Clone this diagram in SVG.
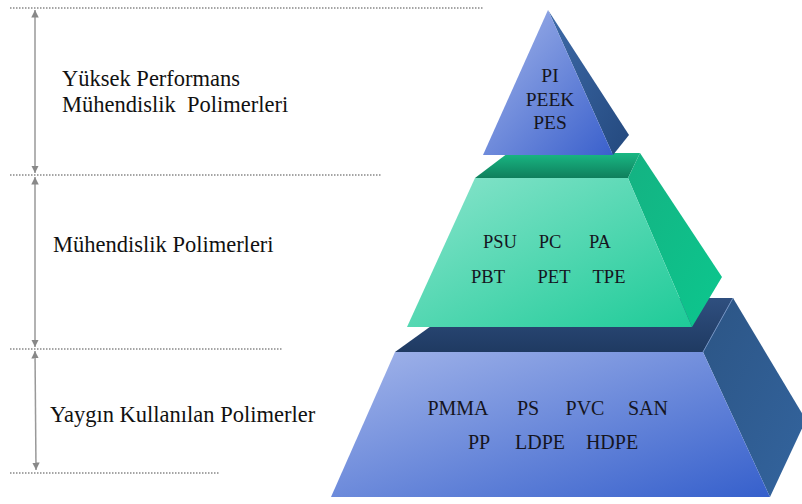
<svg xmlns="http://www.w3.org/2000/svg" width="802" height="504" viewBox="0 0 802 504">
<defs>
<linearGradient id="gTri" x1="0" y1="0" x2="1" y2="1"><stop offset="0" stop-color="#a4b6ea"/><stop offset="1" stop-color="#3a60cc"/></linearGradient>
<linearGradient id="gTriSide" x1="0" y1="0" x2="1" y2="1"><stop offset="0" stop-color="#3d6aa8"/><stop offset="1" stop-color="#24497e"/></linearGradient>
<linearGradient id="gGreen" x1="0" y1="0" x2="1" y2="1"><stop offset="0" stop-color="#8ae4cc"/><stop offset="1" stop-color="#1ecb98"/></linearGradient>
<linearGradient id="gGreenTop" x1="0" y1="0" x2="0" y2="1"><stop offset="0" stop-color="#19b884"/><stop offset="1" stop-color="#0f7f5c"/></linearGradient>
<linearGradient id="gGreenSide" x1="0" y1="0" x2="1" y2="1"><stop offset="0" stop-color="#14b282"/><stop offset="1" stop-color="#0cc78e"/></linearGradient>
<linearGradient id="gBlue" x1="0" y1="0" x2="1" y2="1"><stop offset="0" stop-color="#a3b5ea"/><stop offset="1" stop-color="#3660cc"/></linearGradient>
<linearGradient id="gBlueTop" x1="0" y1="0" x2="0" y2="1"><stop offset="0" stop-color="#2f4f7f"/><stop offset="1" stop-color="#1f3a62"/></linearGradient>
<linearGradient id="gBlueSide" x1="0" y1="0" x2="1" y2="1"><stop offset="0" stop-color="#2c5585"/><stop offset="1" stop-color="#33649e"/></linearGradient>
<marker id="ah" viewBox="0 0 10 10" refX="10" refY="5" markerWidth="5" markerHeight="5" orient="auto-start-reverse"><path d="M0,0 L10,5 L0,10 z" fill="#888"/></marker>
</defs>
<style>
.dot{stroke:#888;stroke-width:1.5;stroke-dasharray:1.5 1.5;fill:none}
.vl{stroke:#999;stroke-width:1.5;fill:none}
.lbl{font-family:"Liberation Serif",serif;font-size:22.5px;fill:#111}
.pl{font-family:"Liberation Serif",serif;font-size:18.5px;fill:#151520;text-anchor:middle}
.pt{font-size:19.5px}
.pb{font-size:20px}
</style>
<rect width="802" height="504" fill="#fff"/>
<g id="guides">
<line class="dot" x1="10" y1="8" x2="483" y2="8"/>
<line class="dot" x1="10" y1="175" x2="382" y2="175"/>
<line class="dot" x1="10" y1="349" x2="282" y2="349"/>
<line class="dot" x1="10" y1="473" x2="220" y2="473"/>
</g>
<g id="connectors">
<line class="vl" x1="35" y1="10" x2="35" y2="173" marker-start="url(#ah)" marker-end="url(#ah)"/>
<line class="vl" x1="35" y1="177" x2="35" y2="347" marker-start="url(#ah)" marker-end="url(#ah)"/>
<line class="vl" x1="35" y1="351" x2="36" y2="470" marker-start="url(#ah)" marker-end="url(#ah)"/>
</g>
<g id="labels">
<text class="lbl" x="62" y="86">Yüksek Performans</text>
<text class="lbl" x="62" y="112" xml:space="preserve">Mühendislik  Polimerleri</text>
<text class="lbl" x="53" y="252">Mühendislik Polimerleri</text>
<text class="lbl" x="50" y="422">Yaygın Kullanılan Polimerler</text>
</g>
<g id="tier-bottom">
<polygon points="395,352 470,298 733,298 703,352" fill="url(#gBlueTop)"/>
<polygon points="703,352 733,298 806,420 770,497" fill="url(#gBlueSide)"/>
<line x1="703" y1="352" x2="733" y2="298" stroke="#6f8fc0" stroke-width="1"/>
<polygon points="395,352 703,352 770,497 331,497" fill="url(#gBlue)"/>
<text class="pl pb" x="458" y="415">PMMA</text>
<text class="pl pb" x="528" y="415">PS</text>
<text class="pl pb" x="585" y="415">PVC</text>
<text class="pl pb" x="648" y="415">SAN</text>
<text class="pl pb" x="479" y="449">PP</text>
<text class="pl pb" x="540" y="449">LDPE</text>
<text class="pl pb" x="612" y="449">HDPE</text>
</g>
<g id="tier-middle">
<polygon points="475,178 508,153 640,153 628,178" fill="url(#gGreenTop)"/>
<polygon points="628,178 640,153 722,277 692,327" fill="url(#gGreenSide)"/>
<polygon points="475,178 628,178 692,327 407,327" fill="url(#gGreen)"/>
<text class="pl" x="500" y="248">PSU</text>
<text class="pl" x="550" y="248">PC</text>
<text class="pl" x="600" y="248">PA</text>
<text class="pl" x="488" y="283">PBT</text>
<text class="pl" x="554" y="283">PET</text>
<text class="pl" x="609" y="283">TPE</text>
</g>
<g id="tier-top">
<polygon points="548,10 629,135 613,155" fill="url(#gTriSide)"/>
<polygon points="548,10 613,155 483,155" fill="url(#gTri)"/>
<text class="pl pt" x="550" y="82">PI</text>
<text class="pl pt" x="550" y="106">PEEK</text>
<text class="pl pt" x="550" y="129">PES</text>
</g>
</svg>
